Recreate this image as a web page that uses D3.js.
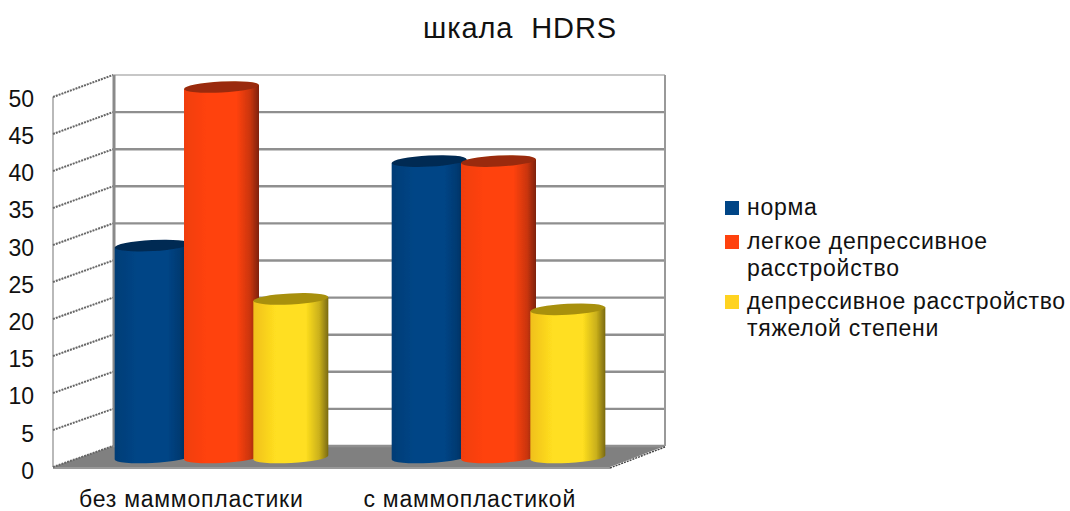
<!DOCTYPE html>
<html><head><meta charset="utf-8">
<script src="https://cdn.jsdelivr.net/npm/d3@7"></script>
<style>html,body{margin:0;padding:0;background:#fff}svg{display:block}text{font-family:"Liberation Sans",Arial,sans-serif;fill:#111}</style>
</head><body><div id="chart"></div>
<script>
const categories = ["без маммопластики", "с маммопластикой"];
const seriesNames = ["норма", "легкое депрессивное расстройство", "депрессивное расстройство тяжелой степени"];
const norma = [28.6, 40];
const legkoe = [50, 40];
const tyazheloe = [21.4, 20];
const seriesValues = [norma, legkoe, tyazheloe];
const colors = ["#004586", "#ff420e", "#ffdf20"];
const edgeRight = ["#00284e", "#7e2207", "#7a6a10"];
const edgeLeft = ["#003d76", "#f03e0c", "#f0c01c"];
const topFill = ["#002a52", "#9a2c08", "#a8900f"];
const legendColors = ["#004586", "#ff420e", "#ffd320"];
const yTicks = d3.range(0, 51, 5);
const legendLines = [["норма"], ["легкое депрессивное", "расстройство"], ["депрессивное расстройство", "тяжелой степени"]];

const W = 1070, H = 511;
const svg = d3.select("#chart").append("svg").attr("width", W).attr("height", H);
const defs = svg.append("defs");
const soft = defs.append("filter").attr("id","soft").attr("x","-5%").attr("y","-5%").attr("width","110%").attr("height","110%");
soft.append("feGaussianBlur").attr("stdDeviation",0.45);

// three depth planes share one value scale, shifted
const yFront = d3.scaleLinear().domain([0,50]).range([467,97]);
const yBack  = d3.scaleLinear().domain([0,50]).range([446,75]);
const yMid   = d3.scaleLinear().domain([0,50]).range([457.5,87]);
const yLabel = d3.scaleLinear().domain([0,50]).range([469,97]);
const xFront = d3.scaleBand().domain(categories).range([53,610]);
const xMid   = d3.scaleBand().domain(categories).range([83,637]);
const xSeries = d3.scaleBand().domain(d3.range(3)).range([0,208]);
const barW = 75;

const g = svg.append("g").attr("filter","url(#soft)");

// floor
g.append("polygon").attr("fill","#808080")
  .attr("points",[[53,yFront(0)],[113,yBack(0)],[665,yBack(0)],[610,yFront(0)]].join(" "));
g.append("line").attr("x1",53).attr("x2",610).attr("y1",yFront(0)+1).attr("y2",yFront(0)+1).attr("stroke","#999").attr("stroke-width",2);

// left wall
g.append("line").attr("x1",53).attr("x2",53).attr("y1",yFront(0)).attr("y2",yFront(50)).attr("stroke","#8a8a8a").attr("stroke-width",1.2);
yTicks.forEach(t=>{
  g.append("line").attr("x1",53).attr("x2",113).attr("y1",yFront(t)).attr("y2",yBack(t))
   .attr("stroke","#666").attr("stroke-width",2).attr("stroke-dasharray","2 1");
});
// back wall grid
yTicks.forEach(t=>{
  g.append("line").attr("x1",113).attr("x2",665).attr("y1",yBack(t)).attr("y2",yBack(t))
   .attr("stroke", t===50 ? "#b4b4b4" : "#8f8f8f").attr("stroke-width", t===50 ? 1.6 : 2.4);
});
g.append("line").attr("x1",114).attr("x2",114).attr("y1",yBack(50)).attr("y2",yBack(0)).attr("stroke","#8a8a8a").attr("stroke-width",3);
g.append("line").attr("x1",665).attr("x2",665).attr("y1",yBack(50)).attr("y2",yBack(0)).attr("stroke","#999").attr("stroke-width",2);
// right floor edge jagged
g.append("line").attr("x1",610).attr("x2",665).attr("y1",yFront(0)+1).attr("y2",yBack(0)+1).attr("stroke","#444").attr("stroke-width",1.4).attr("stroke-dasharray","2 1");

// gradients
colors.forEach((c,i)=>{
  const lg = defs.append("linearGradient").attr("id","cyl"+i);
  lg.append("stop").attr("offset","0").attr("stop-color",edgeLeft[i]);
  lg.append("stop").attr("offset","0.3").attr("stop-color",c);
  lg.append("stop").attr("offset","0.7").attr("stop-color",c);
  lg.append("stop").attr("offset","0.88").attr("stop-color",d3.interpolateRgb(c,edgeRight[i])(0.4));
  lg.append("stop").attr("offset","1").attr("stop-color",edgeRight[i]);
});

// cylinders
const rot = -3, ry = 5.5;
categories.forEach((cat,ci)=>{
  seriesValues.forEach((vals,si)=>{
    const cx = xMid(cat) + (xMid.bandwidth()-208)/2 + xSeries(si) + xSeries.bandwidth()/2;
    const rx = barW/2;
    const dy = Math.sin(-rot*Math.PI/180)*rx;
    const yT = yMid(vals[ci]), yB = yMid(0);
    const xl = cx-rx, xr = cx+rx;
    const body = `M${xl},${yT+dy} L${xl},${yB+dy} A${rx},${ry} ${rot} 0 0 ${xr},${yB-dy} L${xr},${yT-dy} Z`;
    g.append("path").attr("d",body).attr("fill",`url(#cyl${si})`);
    g.append("ellipse").attr("cx",cx).attr("cy",yT).attr("rx",rx).attr("ry",ry)
      .attr("transform",`rotate(${rot} ${cx} ${yT})`).attr("fill",topFill[si]);
  });
});

// axes
const yAxis = d3.axisLeft(yLabel).tickValues(yTicks).tickSize(0).tickPadding(19);
const ya = svg.append("g").attr("transform","translate(53,2)").call(yAxis);
ya.select(".domain").remove();
ya.selectAll("text").attr("font-size",23).style("font-family",'"Liberation Sans",Arial,sans-serif');

const xAxis = d3.axisBottom(xFront).tickSize(0).tickPadding(0);
const xa = svg.append("g").attr("transform",`translate(-1,${yFront(0)+24})`).call(xAxis);
xa.select(".domain").remove();
xa.selectAll("text").attr("font-size",23).attr("letter-spacing",0.76).attr("dy","0.71em").style("font-family",'"Liberation Sans",Arial,sans-serif');

// title
svg.append("text").attr("x",520).attr("y",38).attr("text-anchor","middle").attr("font-size",29).attr("letter-spacing",0.9).style("white-space","pre").text("шкала  HDRS");

// legend
const legendY = [208, 242, 302];
seriesNames.forEach((n,i)=>{
  svg.append("rect").attr("x",725).attr("y",legendY[i]-7).attr("width",14).attr("height",14).attr("fill",legendColors[i]);
  const t = svg.append("text").attr("font-size",23).attr("letter-spacing",0.7);
  legendLines[i].forEach((l,j)=>{
    t.append("tspan").attr("x",747).attr("y",legendY[i]+7+j*27).text(l);
  });
});
</script></body></html>
